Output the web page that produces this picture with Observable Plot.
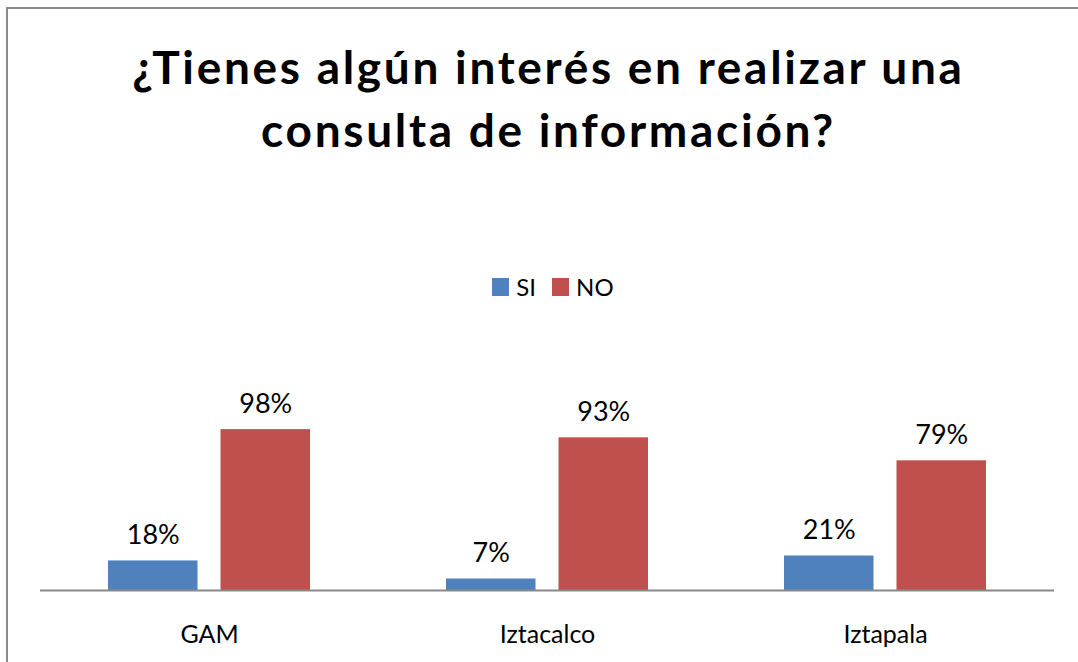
<!DOCTYPE html>
<html>
<head>
<meta charset="utf-8">
<script src="https://cdn.jsdelivr.net/npm/d3@7"></script>
<script src="https://cdn.jsdelivr.net/npm/@observablehq/plot@0.6"></script>
<style>
  html, body { margin: 0; padding: 0; background: #fff; }
  #wrap { position: relative; width: 1078px; height: 662px; overflow: hidden; font-family: Lato, "Noto Sans", sans-serif; }
  #frame { position: absolute; left: 6px; top: 7px; width: 1200px; height: 800px; border: 2px solid #8a8a8a; box-sizing: border-box; }
  #title { position: absolute; left: 0; top: 35px; width: 1097px; text-align: center; font-weight: 700; font-size: 46px; letter-spacing: 2.7px; line-height: 63px; color: #000; }
  #legend { position: absolute; top: 272px; left: 0; width: 1106px; display: flex; justify-content: center; align-items: center; font-size: 24px; color: #000; }
  .item { display: flex; align-items: center; margin: 0 8px; }
  .sw { width: 17px; height: 18px; margin-right: 7px; }
  #chart { position: absolute; left: 0; top: 0; }
</style>
</head>
<body>
<div id="wrap">
  <div id="frame"></div>
  <div id="title">¿Tienes algún interés en realizar una<br>consulta de información?</div>
  <div id="legend"></div>
  <div id="chart"></div>
</div>
<script>
const categories = ["GAM", "Iztacalco", "Iztapala"];
const series = ["SI", "NO"];
const siValues = [18, 7, 21];
const noValues = [98, 93, 79];
const colors = ["#4F81BD", "#C0504D"];

const data = [];
categories.forEach((c, i) => {
  data.push({cat: c, serie: "SI", value: siValues[i]});
  data.push({cat: c, serie: "NO", value: noValues[i]});
});

const legend = document.getElementById("legend");
series.forEach((s, i) => {
  const it = document.createElement("div");
  it.className = "item";
  const sw = document.createElement("div");
  sw.className = "sw";
  sw.style.background = colors[i];
  const t = document.createElement("span");
  t.textContent = s;
  it.appendChild(sw); it.appendChild(t);
  legend.appendChild(it);
});

const chart = Plot.plot({
  width: 1078,
  height: 662,
  marginLeft: 40,
  marginRight: 24,
  marginTop: 393,
  marginBottom: 72,
  style: {background: "transparent", fontFamily: "Lato, 'Noto Sans', sans-serif", overflow: "visible"},
  fx: {domain: categories, padding: 0, round: false, label: null},
  x: {domain: series, paddingInner: 0.2044, paddingOuter: 0.6044, round: false, axis: null},
  y: {domain: [0, 120], axis: null},
  color: {domain: series, range: colors},
  marks: [
    Plot.barY(data, {fx: "cat", x: "serie", y: "value", fill: "serie"}),
    Plot.text(data, {fx: "cat", x: "serie", y: "value", text: d => d.value + "%", lineAnchor: "bottom", dy: -17, fontSize: 27, fill: "#000"}),
    Plot.ruleY([0], {stroke: "#898989", strokeWidth: 2}),
    Plot.axisFx({anchor: "bottom", tickSize: 0, tickPadding: 35, fontSize: 25, fill: "#000", label: null})
  ]
});
document.getElementById("chart").appendChild(chart);
</script>
</body>
</html>
